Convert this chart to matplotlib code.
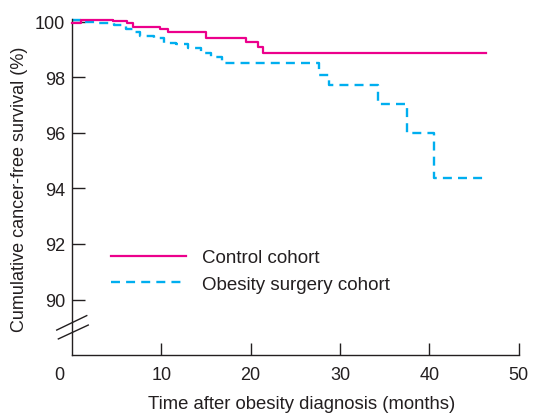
import numpy as np
import matplotlib
matplotlib.use("Agg")
import matplotlib.pyplot as plt

plt.rcParams["font.family"] = ["Liberation Sans", "DejaVu Sans"]

# step times (months) and survival (%)
control_t = [0, 1.0, 4.6, 6.2, 6.8, 9.9, 10.8, 15.0, 19.5, 20.8, 21.4, 46.3]
control_s = [99.97, 100.07, 100.02, 99.95, 99.83, 99.75, 99.63, 99.42, 99.27, 99.11, 98.86, 98.86]

surgery_t = [0, 1.5, 3.0, 4.7, 6.0, 6.8, 7.6, 9.2, 10.3, 11.6, 13.0, 14.4, 15.6, 16.8,
             27.6, 28.8, 34.2, 37.5, 40.5, 46.3]
surgery_s = [100.06, 100.0, 99.96, 99.88, 99.75, 99.62, 99.5, 99.42, 99.25, 99.19, 99.05,
             98.88, 98.75, 98.52, 98.1, 97.72, 97.05, 96.0, 94.38, 94.38]

x_ticks = [10, 20, 30, 40, 50]
y_ticks = [90, 92, 94, 96, 98, 100]

magenta = "#EC008C"
cyan = "#00AEEF"
ink = "#231F20"

fig = plt.figure(figsize=(5.33, 4.14), dpi=100)
ax = fig.add_axes([0.1351, 0.140, 0.838, 0.8116])

ax.step(control_t, control_s, where="post", color=magenta, lw=1.6,
        label="Control cohort", clip_on=False, zorder=3)
ax.step(surgery_t, surgery_s, where="post", color=cyan, lw=1.7, ls=(0, (3.8, 2.6)),
        label="Obesity surgery cohort", clip_on=False, zorder=2)

ax.set_xlim(0, 50)
ax.set_ylim(88, 100.1)
ax.set_xticks(x_ticks)
ax.set_yticks(y_ticks)
ax.tick_params(direction="in", length=9, width=1.0, labelsize=13, color=ink,
               labelcolor=ink)
ax.tick_params(axis="x", pad=8)
ax.tick_params(axis="y", pad=5)
for s in ["top", "right"]:
    ax.spines[s].set_visible(False)
for s in ["left", "bottom"]:
    ax.spines[s].set_linewidth(1.0)
    ax.spines[s].set_color(ink)

# origin label sits left of the axis
ax.text(-1.45, 88 - 11 / 27.77, "0", ha="center", va="top", fontsize=13, color=ink)

# axis break marks
for tb0, tb1, yb0, yb1 in [(-1.71, 1.65, 88.90, 89.42), (-1.53, 1.82, 88.58, 89.08)]:
    ax.plot([tb0, tb1], [yb0, yb1], color=ink, lw=1.0, clip_on=False)

fig.text(20 / 533, 1 - 189 / 414, "Cumulative cancer-free survival (%)", rotation=90,
         ha="center", va="center", fontsize=13, color=ink)
fig.text(302 / 533, 1 - 405 / 414, "Time after obesity diagnosis (months)",
         ha="center", va="center", fontsize=13.3, color=ink)

leg = ax.legend(loc="upper left", bbox_to_anchor=(0.07, 0.338), frameon=False,
                fontsize=13.5, handlelength=4.0, handletextpad=0.85, labelspacing=0.5,
                borderaxespad=0)
for t in leg.get_texts():
    t.set_color(ink)

fig.savefig("out.png", dpi=100)
